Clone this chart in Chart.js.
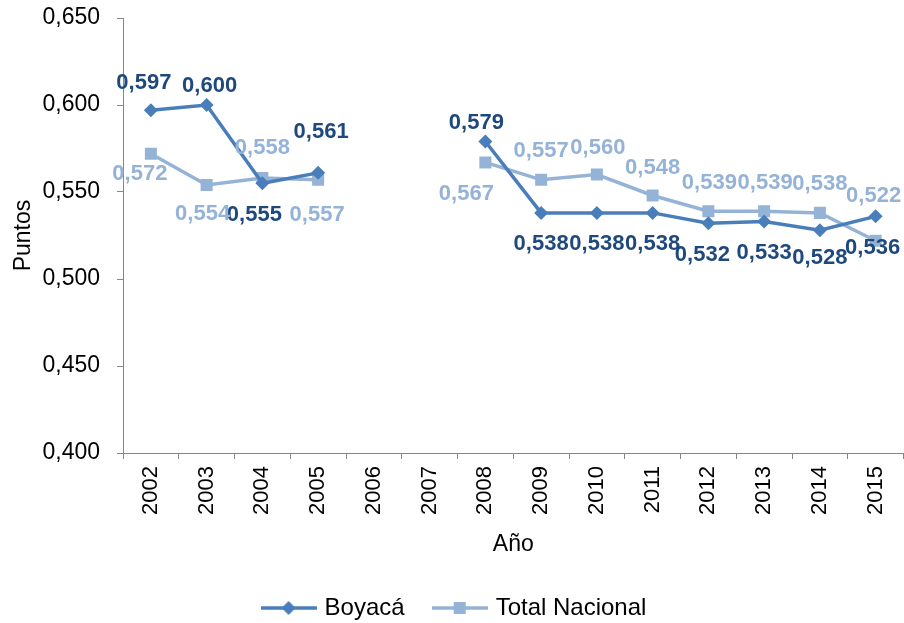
<!DOCTYPE html>
<html><head><meta charset="utf-8">
<script src="https://cdn.jsdelivr.net/npm/chart.js@4.4.1/dist/chart.umd.min.js"></script>
<style>html,body{margin:0;padding:0;background:#fff;overflow:hidden;width:904px;height:623px;}#wrap{width:912px;height:623px;position:relative;}</style>
</head><body><div id="wrap"><canvas id="c"></canvas></div>
<script>
const years = ['2002','2003','2004','2005','2006','2007','2008','2009','2010','2011','2012','2013','2014','2015'];
const boyaca = [0.597,0.600,0.555,0.561,null,null,0.579,0.538,0.538,0.538,0.532,0.533,0.528,0.536];
const nacional = [0.572,0.554,0.558,0.557,null,null,0.567,0.557,0.560,0.548,0.539,0.539,0.538,0.522];
const yMin = 0.400, yMax = 0.650, yStep = 0.050;
const seriesNames = ['Boyacá','Total Nacional'];

const FONT = '"Liberation Sans", Arial, sans-serif';
const C_BOY = '#4A7EBB', C_BOY_LBL = '#1F497D';
const C_NAC = '#95B3D7', C_NAC_LBL = '#95B3D7';
const AXIS = '#868686';

// label offsets (dx, dy) from each point, in px
const labelOffsets = [
  [[-7,-27],[3,-19],[-8,32],[3,-41],null,null,[-9,-19],[0,31],[0,31],[0,31],[-6,32],[0,31],[0,28],[-3,32]],
  [[-11,20],[-4,29],[0,-30],[-1,35],null,null,[-19,32],[0,-29],[1,-27],[0,-28],[1,-28],[1,-28],[0,-29],[-2,-45]]
];
const labelColors = [C_BOY_LBL, C_NAC_LBL];

function fmt(v){ return v.toFixed(3).replace('.', ','); }

function makeIcon(color, style){
  const c = document.createElement('canvas');
  c.width = 56; c.height = 18;
  const x = c.getContext('2d');
  x.strokeStyle = color; x.lineWidth = 3.5;
  x.beginPath(); x.moveTo(0,9); x.lineTo(56,9); x.stroke();
  x.fillStyle = color; x.beginPath();
  if (style === 'diamond'){ x.moveTo(28,2); x.lineTo(35,9); x.lineTo(28,16); x.lineTo(21,9); x.closePath(); }
  else { x.rect(22,3,12,12); }
  x.fill();
  return c;
}
const icons = [makeIcon(C_BOY,'diamond'), makeIcon(C_NAC,'square')];

const labelPlugin = {
  id: 'valueLabels',
  afterDatasetsDraw(chart){
    const ctx = chart.ctx;
    ctx.save();
    ctx.font = 'bold 22px ' + FONT;
    ctx.textAlign = 'center'; ctx.textBaseline = 'middle';
    chart.data.datasets.forEach((ds, di) => {
      const meta = chart.getDatasetMeta(di);
      ctx.fillStyle = labelColors[di];
      ds.data.forEach((v, i) => {
        if (v === null) return;
        const p = meta.data[i];
        const off = labelOffsets[di][i] || [0,-25];
        ctx.fillText(fmt(v), p.x + off[0], p.y + off[1]);
      });
    });
    ctx.restore();
  }
};

Chart.defaults.font.family = FONT;
Chart.defaults.font.size = 23;
Chart.defaults.color = '#000';

new Chart(document.getElementById('c'), {
  type: 'line',
  data: {
    labels: years,
    datasets: [
      { label: seriesNames[0], data: boyaca, borderColor: C_BOY, backgroundColor: C_BOY,
        borderWidth: 3.5, pointStyle: 'rectRot', pointRadius: 7, pointHoverRadius: 7,
        pointBackgroundColor: C_BOY, pointBorderWidth: 0, spanGaps: false, tension: 0 },
      { label: seriesNames[1], data: nacional, borderColor: C_NAC, backgroundColor: C_NAC,
        borderWidth: 3.5, pointStyle: 'rect', pointRadius: 8.5, pointHoverRadius: 8.5,
        pointBackgroundColor: C_NAC, pointBorderWidth: 0, spanGaps: false, tension: 0 }
    ]
  },
  options: {
    responsive: true, maintainAspectRatio: false, animation: false,
    devicePixelRatio: 1,
    layout: { padding: { top: 18, right: 1, left: 0, bottom: -7 } },
    plugins: {
      tooltip: { enabled: false },
      legend: {
        position: 'bottom',
        labels: {
          usePointStyle: true, pointStyleWidth: 48, padding: 31, color: '#000',
          font: { size: 24 },
          generateLabels(chart){
            const items = Chart.defaults.plugins.legend.labels.generateLabels(chart);
            items.forEach((it, i) => { it.pointStyle = icons[i]; });
            return items;
          }
        }
      }
    },
    scales: {
      x: {
        offset: true,
        grid: { offset: true, drawOnChartArea: false, drawTicks: true, tickLength: 6, color: AXIS, tickColor: AXIS },
        border: { color: AXIS, width: 1 },
        ticks: { minRotation: 90, maxRotation: 90, padding: 7, color: '#000', font: { size: 22, lineHeight: 0.1 } },
        title: { display: true, text: 'Año', color: '#000', font: { size: 23 }, padding: { top: 4, bottom: 7 } },
        afterFit(s){ s.height = 112; s.paddingRight = 0; s.paddingLeft = 0; }
      },
      y: {
        min: yMin, max: yMax,
        grid: { drawOnChartArea: false, drawTicks: true, tickLength: 6, color: AXIS, tickColor: AXIS },
        border: { color: AXIS, width: 1 },
        ticks: { stepSize: yStep, padding: 17, color: '#000', font: { size: 23 }, callback: v => fmt(v) },
        title: { display: true, text: 'Puntos', color: '#000', font: { size: 23 }, padding: { top: 10, bottom: 4 } },
        afterFit(s){ s.width = 123; s.paddingTop = 0; s.paddingBottom = 0; }
      }
    }
  },
  plugins: [labelPlugin]
});
</script></body></html>
